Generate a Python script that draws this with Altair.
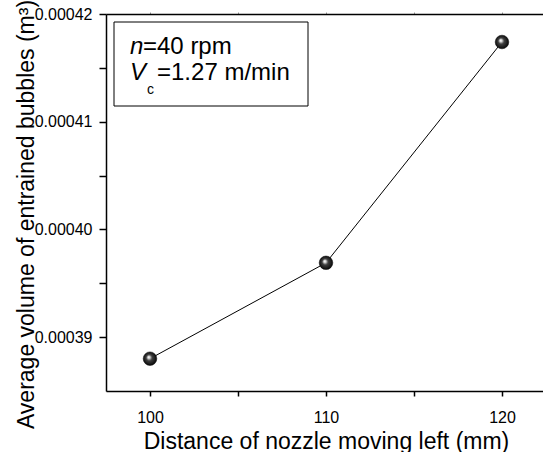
import altair as alt
import pandas as pd

# Data
distance = [100, 110, 120]
volume = [0.000388, 0.0003969, 0.0004174]

x_ticks = [100, 105, 110, 115, 120]
y_ticks = [0.00039, 0.000395, 0.0004, 0.000405, 0.00041, 0.000415, 0.00042]

FONT = "Liberation Sans"

df = pd.DataFrame({"distance": distance, "volume": volume})

xscale = alt.Scale(domain=[97.5, 122.33], nice=False, zero=False)
yscale = alt.Scale(domain=[0.000385, 0.00042], nice=False, zero=False)

is_major_x = "datum.value % 10 === 0"
is_major_y = "abs(datum.value*1e5 - round(datum.value*1e5)) < 0.01"

x_axis = alt.Axis(
    orient="bottom",
    values=x_ticks,
    labelExpr=f"{is_major_x} ? datum.label : ''",
    grid=False,
    domainColor="black",
    domainWidth=1.5,
    ticks=True,
    tickColor="black",
    tickWidth=1.5,
    tickSize=5,
    labelFont=FONT,
    labelFontSize=16,
    labelColor="black",
    labelPadding=13,
    title="Distance of nozzle moving left (mm)",
    titleFont=FONT,
    titleFontSize=23,
    titleFontWeight="normal",
    titleColor="black",
    titleBaseline="alphabetic",
    titleX=220,
    titleY=57,
)

y_axis = alt.Axis(
    orient="left",
    values=y_ticks,
    labelExpr=f"{is_major_y} ? format(datum.value, '.5f') : ''",
    grid=False,
    domainColor="black",
    domainWidth=1.5,
    ticks=True,
    tickColor="black",
    tickWidth=1.5,
    tickSize=7,
    tickOpacity=1,
    labelFont=FONT,
    labelFontSize=16,
    labelColor="black",
    labelPadding=7,
    title="Average volume of entrained bubbles (m³)",
    titleFont=FONT,
    titleFontSize=23,
    titleFontWeight="normal",
    titleColor="black",
    titleBaseline="alphabetic",
    titleAngle=270,
    titleX=-73,
    titleY=200,
)

base = alt.Chart(df)

line = base.mark_line(color="black", strokeWidth=1).encode(
    x=alt.X("distance:Q", scale=xscale, axis=x_axis),
    y=alt.Y("volume:Q", scale=yscale, axis=y_axis),
)

top_axis = base.mark_line(opacity=0).encode(
    x=alt.X(
        "distance:Q",
        scale=xscale,
        axis=alt.Axis(
            orient="top",
            values=x_ticks,
            labels=False,
            title=None,
            grid=False,
            domainColor="black",
            domainWidth=1.5,
            tickColor="#999999",
            tickSize=2,
            tickWidth=1,
        ),
    ),
    y=alt.Y("volume:Q", scale=yscale, axis=y_axis),
)

sphere = alt.RadialGradient(
    gradient="radial",
    stops=[
        alt.GradientStop(offset=0, color="#ffffff"),
        alt.GradientStop(offset=0.15, color="#d8d8d8"),
        alt.GradientStop(offset=0.4, color="#404040"),
        alt.GradientStop(offset=1, color="#000000"),
    ],
    x1=0.4, y1=0.38, r1=0,
    x2=0.5, y2=0.5, r2=0.55,
)

points = base.mark_circle(fill=sphere, opacity=1, size=185, stroke="#000000", strokeWidth=0.5).encode(
    x=alt.X("distance:Q", scale=xscale, axis=None),
    y=alt.Y("volume:Q", scale=yscale, axis=y_axis),
)

# Annotation box
box = alt.Chart(pd.DataFrame({"k": [0]})).mark_rect(
    fill="white", stroke="black", strokeWidth=1
).encode(
    x=alt.value(8), x2=alt.value(202), y=alt.value(8), y2=alt.value(92)
)

def label(txt, x, y, size=24, style="normal"):
    return alt.Chart(pd.DataFrame({"t": [txt]})).mark_text(
        align="left", baseline="alphabetic", font=FONT, fontSize=size,
        fontStyle=style, color="black"
    ).encode(x=alt.value(x), y=alt.value(y), text="t:N")

texts = [
    label("n", 24, 40, style="italic"),
    label("=40 rpm", 37, 40),
    label("V", 24, 66, style="italic"),
    label("c", 41, 80, size=14),
    label("=1.27 m/min", 51, 66),
]

chart = alt.layer(line, top_axis, points, box, *texts).resolve_axis(
    x="independent"
).properties(
    width=437,
    height=377,
    autosize=alt.AutoSizeParams(type="none"),
    padding={"left": 106, "top": 14, "right": 0, "bottom": 61},
).configure_view(stroke=None).configure(background="white")

chart.save("out.html", embed_options={"renderer": "svg", "actions": False})
